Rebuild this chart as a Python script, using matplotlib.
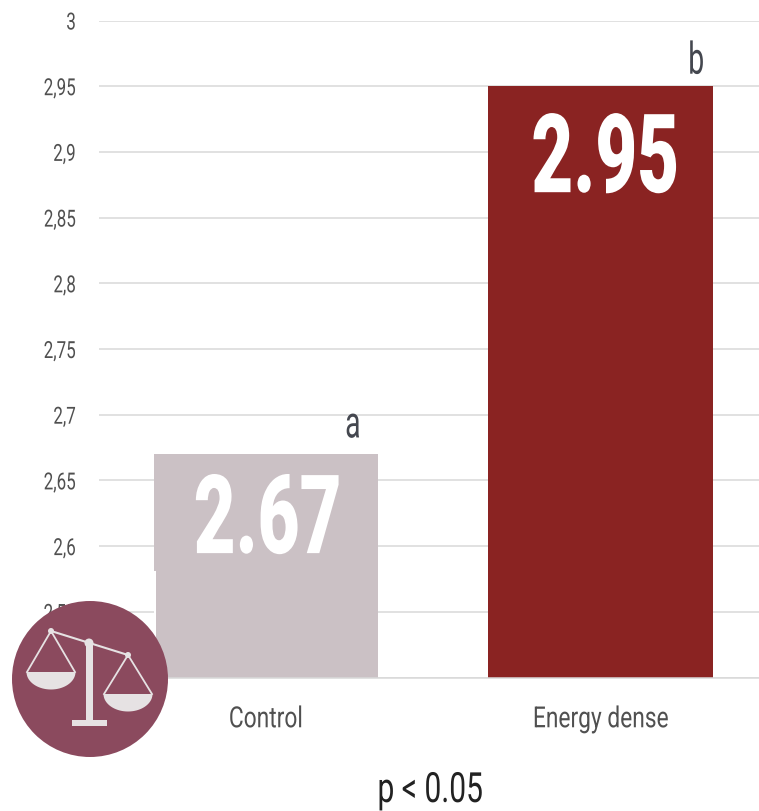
import numpy as np
import matplotlib
matplotlib.use('Agg')
import matplotlib.pyplot as plt
from matplotlib.patches import Circle, Polygon, Rectangle
from matplotlib.lines import Line2D
from matplotlib.patheffects import AbstractPathEffect
from matplotlib.transforms import Affine2D

categories = ['Control', 'Energy dense']
values = [2.67, 2.95]
value_labels = ['2.67', '2.95']
letters = ['a', 'b']
bar_colors = ['#cbc1c5', '#8a2322']
yticks = [2.5, 2.55, 2.6, 2.65, 2.7, 2.75, 2.8, 2.85, 2.9, 2.95, 3]
yticklabels = ['2,5', '2,55', '2,6', '2,65', '2,7', '2,75', '2,8', '2,85', '2,9', '2,95', '3']

W, H = 759, 811
plt.rcParams['font.family'] = ['Roboto', 'DejaVu Sans']


class Condensed(AbstractPathEffect):
    """Squeeze text horizontally, no condensed face being installed."""

    def __init__(self, sx, anchor='center'):
        super().__init__()
        self.sx = sx
        self.anchor = anchor

    def draw_path(self, renderer, gc, tpath, affine, rgbFace=None):
        ext = tpath.get_extents()
        a = {'left': ext.x0, 'center': (ext.x0 + ext.x1) / 2, 'right': ext.x1}[self.anchor]
        squeeze = Affine2D().translate(-a, 0).scale(self.sx, 1).translate(a, 0)
        renderer.draw_path(gc, tpath, squeeze + affine, rgbFace)


fig = plt.figure(figsize=(W / 100, H / 100), dpi=100)
ax = fig.add_axes([98.5 / W, 1 - 677.5 / H, 669.5 / W, 657 / H])
ax.bar(range(2), values, width=0.67, color=bar_colors, zorder=2)
ax.set_xlim(-0.5, 1.5)
ax.set_ylim(2.5, 3)
ax.set_yticks(yticks, yticklabels)
ax.set_xticks(range(2), categories)
ax.yaxis.grid(True, color='#d9d9d9', lw=1.1, zorder=0)
ax.set_axisbelow(True)
for s in ['top', 'right', 'left']:
    ax.spines[s].set_visible(False)
ax.spines['bottom'].set_color('#d9d9d9')
ax.spines['bottom'].set_linewidth(1.1)
ax.tick_params(axis='y', length=0, labelcolor='#505050', labelsize=17, pad=16)
ax.tick_params(axis='x', length=0, labelcolor='#505050', labelsize=21, pad=20)
for lab in ax.get_yticklabels():
    lab.set_path_effects([Condensed(0.72, 'right')])
for lab in ax.get_xticklabels():
    lab.set_path_effects([Condensed(0.78)])

# value inside each bar, shifted a little right of the bar centre
for i, v in enumerate(values):
    dx, drop = [(2, 99), (5, 106)][i]
    ax.annotate(value_labels[i], (i, v), xytext=(dx * 0.72, -drop * 0.72), textcoords='offset points',
                ha='center', va='baseline', color='white', fontsize=79, fontweight='black',
                zorder=3, path_effects=[Condensed(0.66)])
    ax.annotate(letters[i], (i + 0.26, v), xytext=(0 if i == 0 else 6, 12 if i == 0 else 9),
                textcoords='offset points', ha='center', va='baseline', color='#44474f',
                fontsize=32, zorder=3, path_effects=[Condensed(0.64)])

fig.text(430 / W, 1 - 802 / H, 'p < 0.05', ha='center', va='baseline', fontsize=30,
         color='#222222', path_effects=[Condensed(0.72)])

# balance icon, laid out in pixels on a full-figure overlay
ov = fig.add_axes([0, 0, 1, 1], zorder=5)
ov.set_xlim(0, W)
ov.set_ylim(H, 0)
ov.axis('off')
icon = '#8b4a5e'
pale = '#e6e2e3'
ov.add_patch(Rectangle((153.5, 571), 2, 107, color='white', lw=0))
ov.add_patch(Circle((90, 679), 78, color=icon, lw=0))
ov.add_line(Line2D([51, 128], [631, 655], color=pale, lw=1.5))
ov.add_patch(Rectangle((86, 643), 7, 80, color=pale, lw=0))
ov.add_patch(Rectangle((72, 720), 35, 6, color=pale, lw=0))
ov.add_patch(Circle((89, 643), 4.5, color=pale, lw=0))
t = np.linspace(0, np.pi, 40)
for cx, cy, tx, ty in [(51, 672, 51, 631), (128, 694, 128, 655)]:
    ov.add_patch(Circle((tx, ty), 3, color=pale, lw=0))
    ov.add_line(Line2D([cx - 24, tx, cx + 24], [cy, ty, cy], color=pale, lw=1.3))
    ov.add_patch(Polygon(np.column_stack([cx + 24.5 * np.cos(t), cy + 17.5 * np.sin(t)]),
                         color=pale, lw=0))

fig.savefig('out.png', dpi=100)
